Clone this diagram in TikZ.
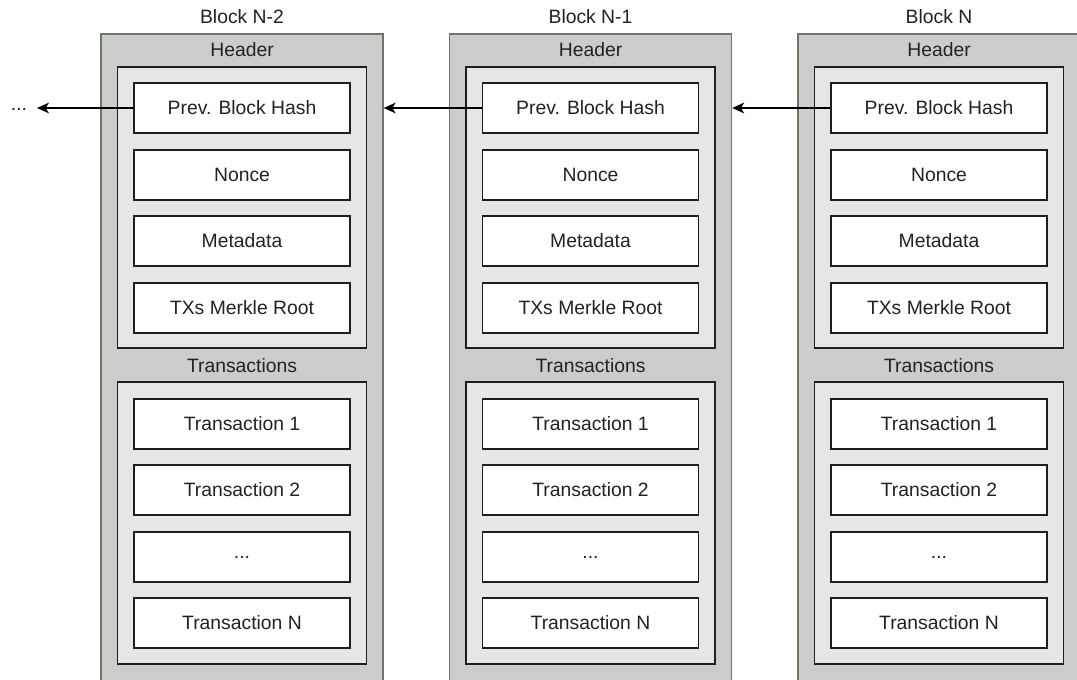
\documentclass[tikz,border=0pt]{standalone}
\usepackage{fontspec}
\setmainfont{Liberation Sans}
\usetikzlibrary{arrows.meta}
\definecolor{blockfill}{HTML}{CCCCCC}
\definecolor{blockline}{HTML}{6B7865}
\definecolor{groupfill}{HTML}{E6E6E6}
\definecolor{inkline}{HTML}{1E1E1E}
\definecolor{txt}{HTML}{222222}
\tikzset{
  x=0.75pt, y=-0.75pt,
  every node/.style={font=\fontsize{14.5}{17}\selectfont, text=txt, inner sep=0pt},
  blockbox/.style={draw=blockline, fill=blockfill, line width=1pt,
    minimum width=211.5pt, minimum height=492pt},
  groupbox/.style={draw=inkline, fill=groupfill, line width=1.1pt,
    minimum width=186.75pt},
  fieldbox/.style={draw=inkline, fill=white, line width=1.1pt,
    minimum width=162pt, minimum height=37.5pt},
  link/.style={draw=black, line width=1.1pt, -{Stealth[length=9pt,width=8pt,inset=2.5pt]}},
}
\begin{document}
\begin{tikzpicture}
\useasboundingbox (0,0) rectangle (1077,679);
\clip (0,0) rectangle (1077,679);
\fill[white] (0,0) rectangle (1077,679);
\foreach \b/\cx/\name in {a/242/Block N-2, b/590.5/Block N-1, c/939/Block N}{
  \node (title\b) at (\cx,17) {\name};
  \node[blockbox] (block\b) at (\cx,362) {};
  \node (headlabel\b) at (\cx,50) {Header};
  \node[groupbox, minimum height=210.75pt] (header\b) at (\cx,207.5) {};
  \node[fieldbox] (hash\b) at (\cx,108) {Prev. Block Hash};
  \node[fieldbox] (nonce\b) at (\cx,175) {Nonce};
  \node[fieldbox] (meta\b) at (\cx,241) {Metadata};
  \node[fieldbox] (root\b) at (\cx,308) {TXs Merkle Root};
  \node (txlabel\b) at (\cx,366) {Transactions};
  \node[groupbox, minimum height=211.5pt] (txs\b) at (\cx,523) {};
  \node[fieldbox] (txone\b) at (\cx,424) {Transaction 1};
  \node[fieldbox] (txtwo\b) at (\cx,490) {Transaction 2};
  \node[fieldbox] (txdots\b) at (\cx,557) {...};
  \node[fieldbox] (txlast\b) at (\cx,623) {Transaction N};
}
\node (more) at (19,109) {...};
\coordinate (moretip) at (37,108);
\draw[link] (hashc.west) -- (blockb.east |- hashc.west);
\draw[link] (hashb.west) -- (blocka.east |- hashb.west);
\draw[link] (hasha.west) -- (moretip);
\end{tikzpicture}
\end{document}
